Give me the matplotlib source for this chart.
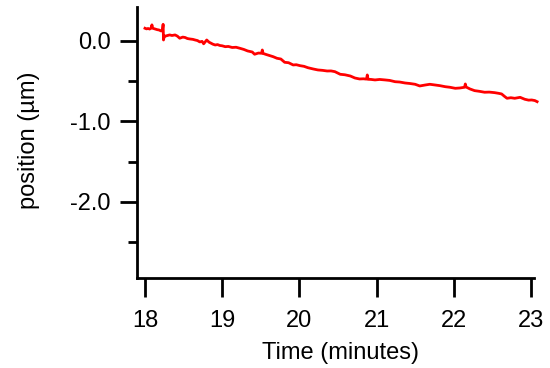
import matplotlib
matplotlib.use("Agg")
import matplotlib.pyplot as plt
from matplotlib.ticker import MultipleLocator

plt.rcParams['font.family'] = ['Liberation Sans', 'DejaVu Sans']

# trace
time_min = [18.00, 18.02, 18.04, 18.06, 18.08, 18.09, 18.10, 18.13, 18.16, 18.18,
            18.21, 18.225, 18.235, 18.24, 18.25, 18.27, 18.30, 18.32, 18.35, 18.39,
            18.42, 18.45, 18.49, 18.52, 18.55, 18.58, 18.62, 18.65, 18.68, 18.71,
            18.74, 18.76, 18.80, 18.83, 18.85, 18.88, 18.91, 18.94, 18.97, 19.00,
            19.04, 19.08, 19.13, 19.18, 19.23, 19.28, 19.33, 19.39, 19.42, 19.47,
            19.51, 19.52, 19.53, 19.57, 19.62, 19.66, 19.71, 19.76, 19.81, 19.86,
            19.92, 19.96, 20.01, 20.06, 20.11, 20.18, 20.24, 20.30, 20.36, 20.41,
            20.46, 20.53, 20.59, 20.66, 20.72, 20.78, 20.83, 20.87, 20.88, 20.89,
            20.93, 20.98, 21.04, 21.11, 21.17, 21.24, 21.30, 21.37, 21.43, 21.50,
            21.56, 21.63, 21.69, 21.76, 21.82, 21.89, 21.95, 22.02, 22.08, 22.14,
            22.15, 22.16, 22.21, 22.27, 22.33, 22.40, 22.46, 22.53, 22.58, 22.62,
            22.66, 22.69, 22.74, 22.79, 22.86, 22.92, 22.97, 23.01, 23.05, 23.08]
position_um = [0.158, 0.150, 0.155, 0.148, 0.160, 0.200, 0.158, 0.149, 0.140, 0.137,
               0.124, 0.128, 0.207, 0.012, 0.060, 0.062, 0.070, 0.075, 0.068, 0.075,
               0.060, 0.034, 0.048, 0.043, 0.030, 0.025, 0.020, 0.012, 0.005, -0.012,
               -0.005, -0.035, 0.012, -0.015, -0.025, -0.040, -0.050, -0.045, -0.056, -0.060,
               -0.071, -0.068, -0.081, -0.078, -0.091, -0.105, -0.124, -0.137, -0.165, -0.150,
               -0.153, -0.112, -0.155, -0.168, -0.183, -0.195, -0.215, -0.224, -0.265, -0.270,
               -0.298, -0.295, -0.307, -0.315, -0.332, -0.348, -0.360, -0.365, -0.373, -0.372,
               -0.381, -0.414, -0.420, -0.435, -0.460, -0.472, -0.470, -0.474, -0.422, -0.476,
               -0.478, -0.484, -0.478, -0.484, -0.490, -0.506, -0.510, -0.522, -0.528, -0.538,
               -0.559, -0.547, -0.538, -0.547, -0.555, -0.568, -0.575, -0.588, -0.584, -0.575,
               -0.534, -0.572, -0.596, -0.617, -0.625, -0.637, -0.635, -0.642, -0.650, -0.658,
               -0.690, -0.712, -0.705, -0.712, -0.700, -0.724, -0.735, -0.733, -0.740, -0.754]

fig = plt.figure(figsize=(5.5, 3.68), dpi=100)
ax = fig.add_axes([0.249, 0.2446, 0.7218, 0.7364])

ax.plot(time_min, position_um, color='#ff0000', lw=2, clip_on=False)

ax.set_xlim(17.896, 23.039)
ax.set_ylim(-2.944, 0.422)

ax.xaxis.set_major_locator(MultipleLocator(1))
ax.yaxis.set_major_locator(MultipleLocator(1))
ax.yaxis.set_minor_locator(MultipleLocator(0.5))
ax.yaxis.set_major_formatter(plt.FormatStrFormatter('%.1f'))

for s in ['top', 'right']:
    ax.spines[s].set_visible(False)
for s in ['left', 'bottom']:
    ax.spines[s].set_linewidth(2)

ax.tick_params(axis='x', which='major', length=14, width=2, labelsize=17, pad=9)
ax.tick_params(axis='y', which='major', length=12, width=2, labelsize=17, pad=7)
ax.tick_params(axis='y', which='minor', length=6.5, width=2)

ax.set_xlabel('Time (minutes)', fontsize=17)
ax.set_ylabel('position (µm)', fontsize=17)
ax.xaxis.set_label_coords(0.513, -0.235)
ax.yaxis.set_label_coords(-0.244, 0.51)

fig.savefig('out.png', dpi=100)
